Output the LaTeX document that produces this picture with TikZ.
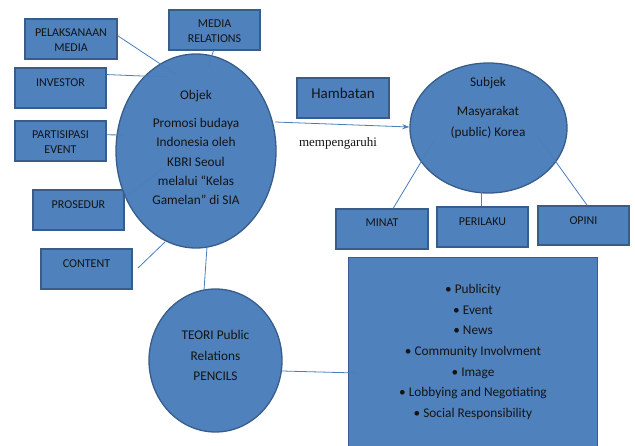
\documentclass[tikz,border=0pt]{standalone}
\usepackage{fontspec}
\setmainfont{Carlito}
\newfontfamily\seriffont{Liberation Serif}
\usetikzlibrary{shapes.geometric,calc,arrows.meta}
\definecolor{fillblue}{HTML}{4F81BD}
\definecolor{edgeblue}{HTML}{385D8A}
\definecolor{linkblue}{HTML}{4A7EBB}
\definecolor{txt}{HTML}{141414}
\tikzset{
  box/.style={draw=edgeblue, fill=fillblue, line width=1.3pt, minimum width=91pt, minimum height=40pt, inner sep=0pt},
  blob/.style={draw=edgeblue, fill=fillblue, line width=1.3pt, ellipse, inner sep=0pt},
  lbl/.style={font=\fontsize{12}{14.5}\selectfont, text=txt, align=center, inner sep=0pt},
  big/.style={font=\fontsize{13.3}{19}\selectfont, text=txt, align=center, inner sep=0pt},
  conn/.style={draw=linkblue, line width=0.8pt}
}
\begin{document}
\begin{tikzpicture}[x=1pt,y=-1pt]
\useasboundingbox (0,0) rectangle (635,446);
\fill[white] (0,0) rectangle (635,446);
% left boxes
\node[box, minimum width=92pt] (pm) at (71,39) {};
\node[lbl] at (71,40) {PELAKSANAAN\\MEDIA};
\node[box] (mr) at (214.5,30) {};
\node[lbl] at (214.5,31) {MEDIA\\RELATIONS};
\node[box] (inv) at (60.5,88) {};
\node[lbl] at (60.5,83) {INVESTOR};
\node[box] (part) at (60.5,141) {};
\node[lbl] at (60.5,142) {PARTISIPASI\\EVENT};
\node[box] (pros) at (78.5,210) {};
\node[lbl] at (78.5,205) {PROSEDUR};
\node[box] (cont) at (86.5,269) {};
\node[lbl] at (86.5,264) {CONTENT};
% Objek ellipse
\node[blob, minimum width=160pt, minimum height=194pt] (obj) at (196,151) {};
\node[big, font=\fontsize{13.3}{19.2}\selectfont, anchor=north] at (196,90) {Objek\\[9pt]Promosi budaya\\Indonesia oleh\\KBRI Seoul\\melalui “Kelas\\Gamelan” di SIA};
% connectors left
\coordinate (c1) at (177,75);
\coordinate (c2) at (208,67);
\coordinate (c3) at (167,77);
\coordinate (c4) at (124,135);
\coordinate (c5) at (165,167);
\coordinate (c6s) at (138,268);
\coordinate (c6) at (165,242);
\coordinate (c7s) at (207,247);
\coordinate (c7) at (204,290);
\draw[conn] ($(pm.north east)!0.42!(pm.south east)$) -- (c1);
\draw[conn] ($(mr.south)+(-1,0)$) -- (c2);
\draw[conn] ($(inv.north east)!0.175!(inv.south east)$) -- (c3);
\draw[conn] ($(part.north east)!0.35!(part.south east)$) -- (c4);
\draw[conn] ($(pros.north east)!0.2!(pros.south east)$) -- (c5);
\draw[conn] (c6s) -- (c6);
% Hambatan
\node[box, minimum width=92pt] (ham) at (343,98) {};
\node[lbl, font=\fontsize{15}{18}\selectfont] at (343,93) {Hambatan};
% Subjek
\node[blob, minimum width=157pt, minimum height=130pt] (subj) at (488.5,128) {};
\node[big] at (488,83) {Subjek};
\node[big, font=\fontsize{13.3}{21}\selectfont] at (488,122.5) {Masyarakat\\(public) Korea};
\coordinate (a1) at (275,122);
\draw[conn, -{Stealth[length=7pt,width=5pt]}] (a1) -- (subj.west |- 0,127);
\node[font=\seriffont\fontsize{13}{15}\selectfont, text=txt, inner sep=0pt] at (338,143) {mempengaruhi};
% bottom right boxes
\node[box, minimum width=92pt] (min) at (382,229) {};
\node[lbl] at (382,223) {MINAT};
\node[box] (per) at (482.5,227) {};
\node[lbl] at (482.5,222) {PERILAKU};
\node[box, minimum height=39pt] (opi) at (583.5,225.5) {};
\node[lbl] at (583.5,221) {OPINI};
\coordinate (s1) at (433,142);
\coordinate (s2) at (538,137);
\draw[conn] ($(min.north west)!0.62!(min.north east)$) -- (s1);
\draw[conn] ($(per.north)+(-1.5,0)$) -- ($(per.north)+(-1.5,-14)$);
\draw[conn] ($(opi.north west)!0.54!(opi.north east)$) -- (s2);
% TEORI circle
\node[blob, minimum width=133pt, minimum height=143pt] (teori) at (215.5,360.5) {};
\node[big, font=\fontsize{13.3}{20.5}\selectfont] at (215.5,355.5) {TEORI Public\\Relations\\PENCILS};
\draw[conn] (c7s) -- (c7);
% big box
\node[box, minimum width=249pt, minimum height=195pt, anchor=north west] (pen) at (348,257) {};
\node[big, font=\fontsize{13.3}{20.7}\selectfont, anchor=north] at (473,284) {• Publicity\\• Event\\• News\\• Community Involvment\\• Image\\• Lobbying and Negotiating\\• Social Responsibility};
\coordinate (t1) at (282,371);
\coordinate (t2) at (357,373);
\draw[conn] (t1) -- (t2);
\end{tikzpicture}
\end{document}
